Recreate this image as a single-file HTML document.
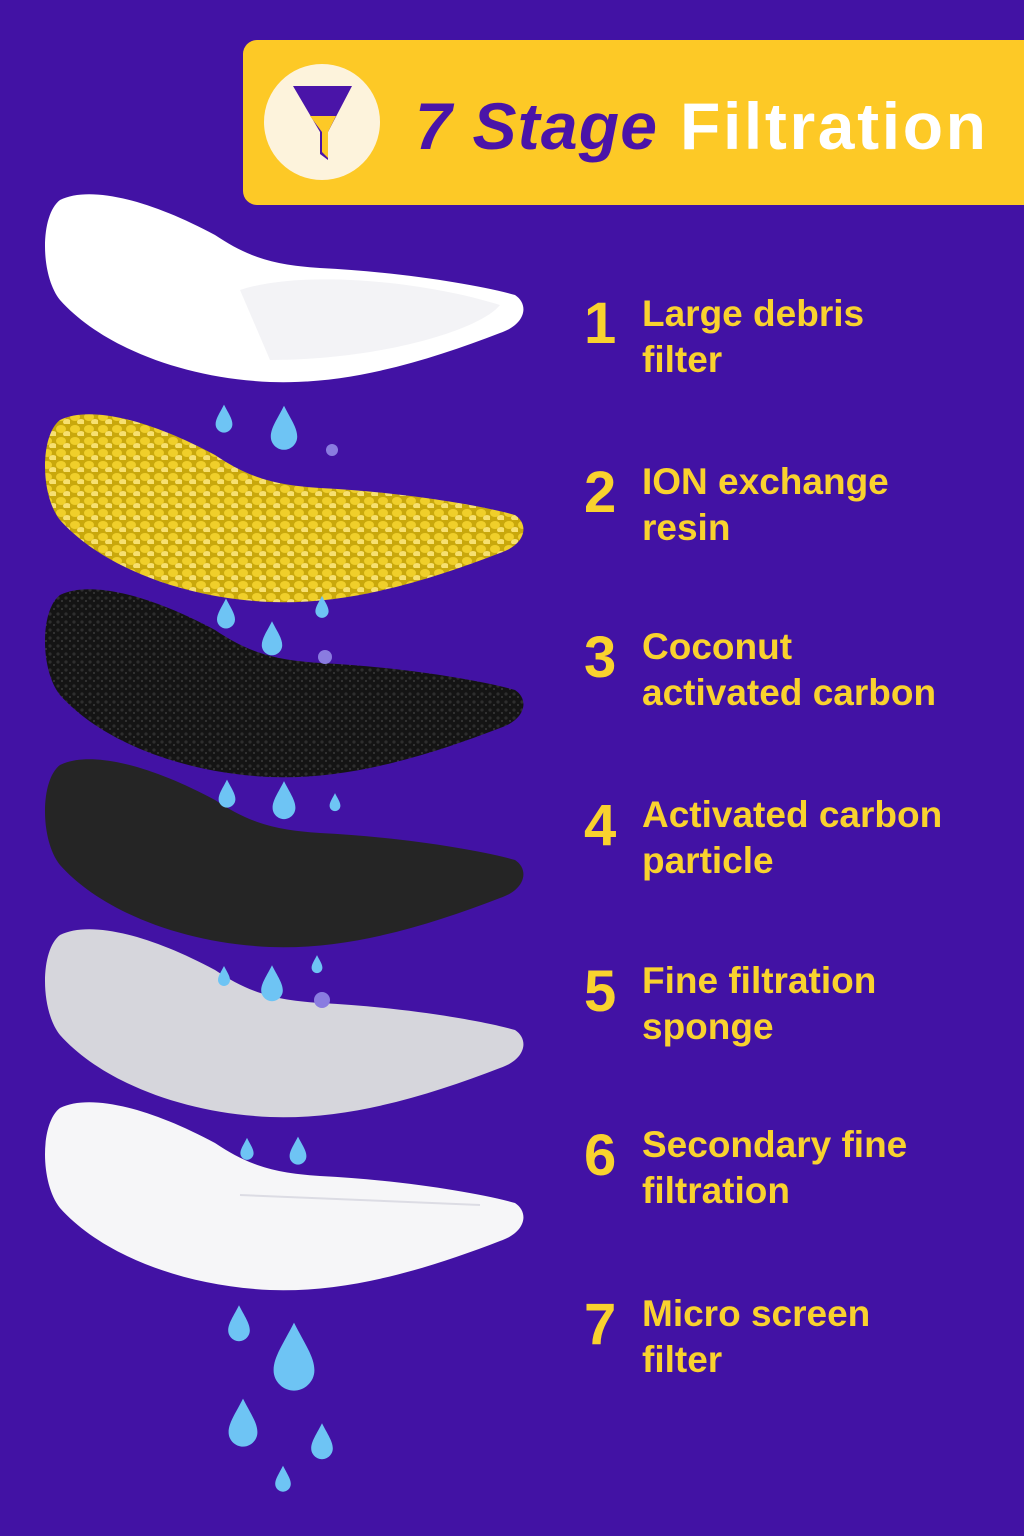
<!DOCTYPE html>
<html><head><meta charset="utf-8"><style>
html,body{margin:0;padding:0;background:#4212a4;}
body{width:1024px;height:1536px;position:relative;overflow:hidden;font-family:"Liberation Sans",sans-serif;}
.n{position:absolute;left:584px;font-size:58px;font-weight:bold;color:#f9d22e;line-height:1;}
.t{position:absolute;left:642px;font-size:37px;font-weight:bold;color:#f9d22e;line-height:46px;}
</style></head><body>
<svg width="1024" height="1536" style="position:absolute;left:0;top:0">
<defs>
<path id="f" d="M60,200 C90,185 150,200 215,235 C245,255 270,265 320,268 C400,272 480,285 515,295 C530,305 525,325 500,333 C430,360 350,385 270,382 C180,378 100,345 60,300 C40,275 40,215 60,200 Z"/>
<path id="d" d="M0,-22 C6,-10 12,-2 12,6 C12,13 6,18 0,18 C-6,18 -12,13 -12,6 C-12,-2 -6,-10 0,-22 Z"/>
<pattern id="beads" width="14" height="12" patternUnits="userSpaceOnUse"><rect width="14" height="12" fill="#c9a80c"/><ellipse cx="5" cy="5" rx="5" ry="4" fill="#f0cf2a"/><ellipse cx="11" cy="10" rx="4" ry="3" fill="#f7e070"/></pattern>
<pattern id="grit" width="8" height="8" patternUnits="userSpaceOnUse"><rect width="8" height="8" fill="#141414"/><circle cx="2" cy="3" r="1.6" fill="#2e2e2e"/><circle cx="6" cy="6" r="1" fill="#3a3a3a"/></pattern>
</defs>
<rect x="243" y="40" width="800" height="165" rx="14" fill="#fdc926"/>
<circle cx="322" cy="122" r="58" fill="#fdf3dc"/>
<path d="M293,86 L352,86 L328,132 L328,160 L320,154 L320,132 Z" fill="#4a14a8"/>
<path d="M310,116 L336,116 L328,132 L328,158 L322,152 L322,132 Z" fill="#fdc926"/>
<text x="415" y="149" font-family="Liberation Sans" font-size="66" font-weight="bold" font-style="italic" fill="#4a14a8" textLength="242">7 Stage</text>
<text x="680" y="149" font-family="Liberation Sans" font-size="66" font-weight="bold" fill="#ffffff" textLength="306">Filtration</text>

<use href="#f" fill="#ffffff"/>
<path d="M240,290 C300,270 420,280 500,305 C480,330 380,360 270,360 Z" fill="#f3f3f6"/>
<use href="#f" transform="translate(0,220)" fill="url(#beads)"/>
<use href="#f" transform="translate(0,395)" fill="url(#grit)"/>
<use href="#f" transform="translate(0,565)" fill="#252525"/>
<use href="#f" transform="translate(0,735)" fill="#d6d6dc"/>
<use href="#f" transform="translate(0,908)" fill="#f6f6f8"/>
<path d="M240,1195 L480,1205" stroke="#dcdce4" stroke-width="2" fill="none"/>

<g fill="#6ec4f4">
<use href="#d" transform="translate(224,420) scale(0.7)"/>
<use href="#d" transform="translate(284,430) scale(1.1)"/>
<use href="#d" transform="translate(226,615) scale(0.75)"/>
<use href="#d" transform="translate(272,640) scale(0.85)"/>
<use href="#d" transform="translate(322,608) scale(0.55)"/>
<use href="#d" transform="translate(227,795) scale(0.7)"/>
<use href="#d" transform="translate(284,802) scale(0.95)"/>
<use href="#d" transform="translate(335,803) scale(0.45)"/>
<use href="#d" transform="translate(224,977) scale(0.5)"/>
<use href="#d" transform="translate(272,985) scale(0.9)"/>
<use href="#d" transform="translate(317,965) scale(0.45)"/>
<use href="#d" transform="translate(247,1150) scale(0.55)"/>
<use href="#d" transform="translate(298,1152) scale(0.7)"/>
<use href="#d" transform="translate(239,1325) scale(0.9)"/>
<use href="#d" transform="translate(294,1360) scale(1.7)"/>
<use href="#d" transform="translate(243,1425) scale(1.2)"/>
<use href="#d" transform="translate(322,1443) scale(0.9)"/>
<use href="#d" transform="translate(283,1480) scale(0.65)"/>
</g>
<g fill="#8a7ce0"><circle cx="332" cy="450" r="6"/><circle cx="325" cy="657" r="7"/><circle cx="322" cy="1000" r="8"/></g>
</svg>
<div class="n" style="top:295px">1</div><div class="t" style="top:291px">Large debris<br>filter</div>
<div class="n" style="top:464px">2</div><div class="t" style="top:459px">ION exchange<br>resin</div>
<div class="n" style="top:629px">3</div><div class="t" style="top:624px">Coconut<br>activated carbon</div>
<div class="n" style="top:797px">4</div><div class="t" style="top:792px">Activated carbon<br>particle</div>
<div class="n" style="top:963px">5</div><div class="t" style="top:958px">Fine filtration<br>sponge</div>
<div class="n" style="top:1127px">6</div><div class="t" style="top:1122px">Secondary fine<br>filtration</div>
<div class="n" style="top:1296px">7</div><div class="t" style="top:1291px">Micro screen<br>filter</div>
</body></html>
